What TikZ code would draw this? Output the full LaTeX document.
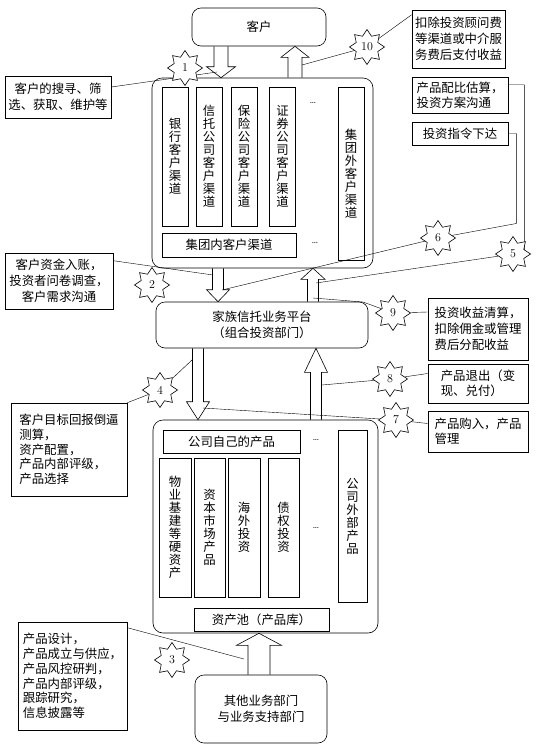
\documentclass[tikz,border=0pt]{standalone}
\usepackage{fontspec}
\newfontfamily\cjk{Noto Sans CJK SC}
\usetikzlibrary{shapes.geometric,calc,backgrounds}

\newcommand{\cjktext}{\cjk\fontsize{12.4}{16}\selectfont}
\newcommand{\cjktight}{\cjk\fontsize{12.4}{14.7}\selectfont}
\newcommand{\cjkcol}{\cjk\fontsize{12.4}{13}\selectfont}

% hollow block arrow: start, end, half shaft, half head, head length
\newcommand{\fatarrow}[5]{%
  \coordinate (fas) at (#1);
  \coordinate (fae) at (#2);
  \coordinate (fah) at ($(fae)!#5!(fas)$);
  \draw ($(fas)!#3!90:(fae)$) -- ($(fah)!#3!90:(fae)$) -- ($(fah)!#4!90:(fae)$) -- (fae)
    -- ($(fah)!#4!-90:(fae)$) -- ($(fah)!#3!-90:(fae)$) -- ($(fas)!#3!-90:(fae)$);
}

\begin{document}
\begin{tikzpicture}[x=1pt, y=-1pt, line width=0.6pt,
  box/.style={draw, font=\cjktext, align=center, inner sep=0pt},
  rbox/.style={box, rounded corners=9pt},
  col/.style={draw, font=\cjkcol, align=center, inner sep=0pt, minimum width=26pt},
  note/.style={draw, font=\cjktext, align=left, inner sep=0pt},
  burst/.style={draw, fill=white, star, star points=8, star point ratio=1.5,
    minimum size=35pt, inner sep=0pt, font=\fontsize{12}{12}\selectfont}]

\useasboundingbox (0,0) rectangle (536,753);

% client and channels
\node[rbox, minimum width=134pt, minimum height=38pt] (kehu) at (259,27) {客户};
\node[draw, rounded corners=10pt, minimum width=221pt, minimum height=190pt] (qudao) at (262.5,173) {};
\node[col, minimum height=139pt] (yinhang) at (175,156.5) {银\\行\\客\\户\\渠\\道};
\node[col, minimum height=139pt] (xintuo) at (209,156.5) {信\\托\\公\\司\\客\\户\\渠\\道};
\node[col, minimum height=139pt] (baoxian) at (244,156.5) {保\\险\\公\\司\\客\\户\\渠\\道};
\node[col, minimum height=139pt] (zhengquan) at (282.5,156.5) {证\\券\\公\\司\\客\\户\\渠\\道};
\node[col, minimum height=173pt] (jtwai) at (351,173.5) {集\\团\\外\\客\\户\\渠\\道};
\node[box, minimum width=134pt, minimum height=24pt] (jtnei) at (229,245) {集团内客户渠道};
\node (dots1) at (313,103) {\dots};
\node (dots2) at (315,243) {\dots};

% platform
\node[rbox, minimum width=212pt, minimum height=46pt] (pingtai) at (262,325) {家族信托业务平台\\（组合投资部门）};

% products
\node[draw, rounded corners=10pt, minimum width=225pt, minimum height=213pt] (chanpin) at (265.5,526.5) {};
\node[box, minimum width=137pt, minimum height=23pt] (ziji) at (231.5,441.5) {公司自己的产品};
\node[col, minimum width=32pt, minimum height=139pt] (wuye) at (175,527.5) {物\\业\\基\\建\\等\\硬\\资\\产};
\node[col, minimum width=31pt, minimum height=139pt] (ziben) at (209.5,527.5) {资\\本\\市\\场\\产\\品};
\node[col, minimum width=32pt, minimum height=139pt] (haiwai) at (244,527.5) {海\\外\\投\\资};
\node[col, minimum width=31pt, minimum height=139pt] (zhaiquan) at (283.5,527.5) {债\\权\\投\\资};
\node[col, minimum width=29pt, minimum height=172pt] (cpwai) at (352.5,516) {公\\司\\外\\部\\产\\品};
\node[box, minimum width=135pt, minimum height=23pt] (cpku) at (261.5,619.5) {资产池（产品库）};
\node (dots3) at (316,440) {\dots};
\node (dots4) at (316,528) {\dots};

\node[rbox, minimum width=132pt, minimum height=68pt] (qita) at (261,709) {其他业务部门\\与业务支持部门};

% notes
\node[box, minimum width=106pt, minimum height=42pt] (n1) at (58,97) {客户的搜寻、筛\\选、获取、维护等};
\node[box, minimum width=108pt, minimum height=56pt] (n2) at (59,281) {客户资金入账，\\投资者问卷调查，\\客户需求沟通};
\node[note, font=\cjktight, minimum width=116pt, minimum height=93pt] (n4) at (69,449.5) {客户目标回报倒逼\\测算，\\资产配置，\\产品内部评级，\\产品选择};
\node[note, font=\cjktight, minimum width=109pt, minimum height=108pt] (n3) at (72.5,676) {产品设计，\\产品成立与供应，\\产品风控研判，\\产品内部评级，\\跟踪研究，\\信息披露等};
\node[box, minimum width=93pt, minimum height=58pt] (n10) at (458.5,39) {扣除投资顾问费\\等渠道或中介服\\务费后支付收益};
\node[note, font=\cjktight, minimum width=96pt, minimum height=36pt] (n5) at (460,95) {产品配比估算，\\投资方案沟通};
\node[note, minimum width=96pt, minimum height=23pt] (n6) at (460,133.5) {投资指令下达};
\node[note, minimum width=100pt, minimum height=62pt] (n9) at (478,329) {投资收益清算，\\扣除佣金或管理\\费后分配收益};
\node[note, font=\cjktight, minimum width=100pt, minimum height=39pt] (n8) at (478,383.5) {产品退出（变\\现、兑付）};
\node[note, font=\cjktight, minimum width=100pt, minimum height=41pt] (n7) at (478,431.5) {产品购入，产品\\管理};

% block arrows
\coordinate (x1) at (221,0);
\coordinate (x10) at (295,0);
\coordinate (x2) at (218,0);
\coordinate (x9) at (313,0);
\coordinate (x4) at (198,0);
\coordinate (x8) at (316,0);
\coordinate (x3) at (259,0);
\fatarrow{kehu.south -| x1}{qudao.north -| x1}{7pt}{14.5pt}{11pt}
\fatarrow{qudao.north -| x10}{kehu.south -| x10}{7pt}{14pt}{11pt}
\fatarrow{qudao.south -| x2}{pingtai.north -| x2}{5.5pt}{11.5pt}{12pt}
\fatarrow{pingtai.north -| x9}{qudao.south -| x9}{5.5pt}{12pt}{11pt}
\fatarrow{pingtai.south -| x4}{chanpin.north -| x4}{5.5pt}{11.5pt}{18pt}
\fatarrow{chanpin.north -| x8}{pingtai.south -| x8}{5.5pt}{11.5pt}{24pt}
\fatarrow{qita.north -| x3}{chanpin.south -| x3}{11pt}{22.5pt}{12pt}

% step numbers
\node[burst] (s1) at (185,68) {1};
\node[burst] (s2) at (152,285) {2};
\node[burst] (s3) at (172,660) {3};
\node[burst] (s4) at (160,390) {4};
\node[burst] (s5) at (513,254) {5};
\node[burst] (s6) at (438,238) {6};
\node[burst] (s7) at (396,420) {7};
\node[burst] (s8) at (390,379) {8};
\node[burst] (s9) at (393,313) {9};
\node[burst] (s10) at (367,47) {10};

% free ends on the arrows
\coordinate (p1) at (217,72);
\coordinate (p2) at (213,275);
\coordinate (p3) at (244,659);
\coordinate (p4) at (192,360);
\coordinate (p5) at (316,283);
\coordinate (p6) at (222,290);
\coordinate (p7) at (203,408);
\coordinate (p8) at (322,385);
\coordinate (p9) at (313,298);
\coordinate (p10) at (302,65);

\begin{scope}[on background layer]
\draw ([yshift=10pt]n1.east) -- (p1);
\draw ([yshift=-8pt]n2.north east) -- (p2);
\draw ([yshift=-6pt]n3.north east) -- (p3);
\draw (n4.north east) -- (s4) -- (p4);
\draw ([yshift=-8pt]n5.north east) -- ++(16,0) |- (s5) -- (p5);
\draw (n6.east) -- ++(8,0) -- ++(0,90) -- (s6) -- (p6);
\draw (p7) -- (s7) -- ([yshift=8pt]n7.west);
\draw (p8) -- (s8) -- ([yshift=10pt]n8.west);
\draw (p9) -- (363,302) -- (s9) -- ([yshift=17pt]n9.west);
\draw (p10) -- (s10) -- ([yshift=-5pt]n10.north west);
\end{scope}
\end{tikzpicture}
\end{document}
